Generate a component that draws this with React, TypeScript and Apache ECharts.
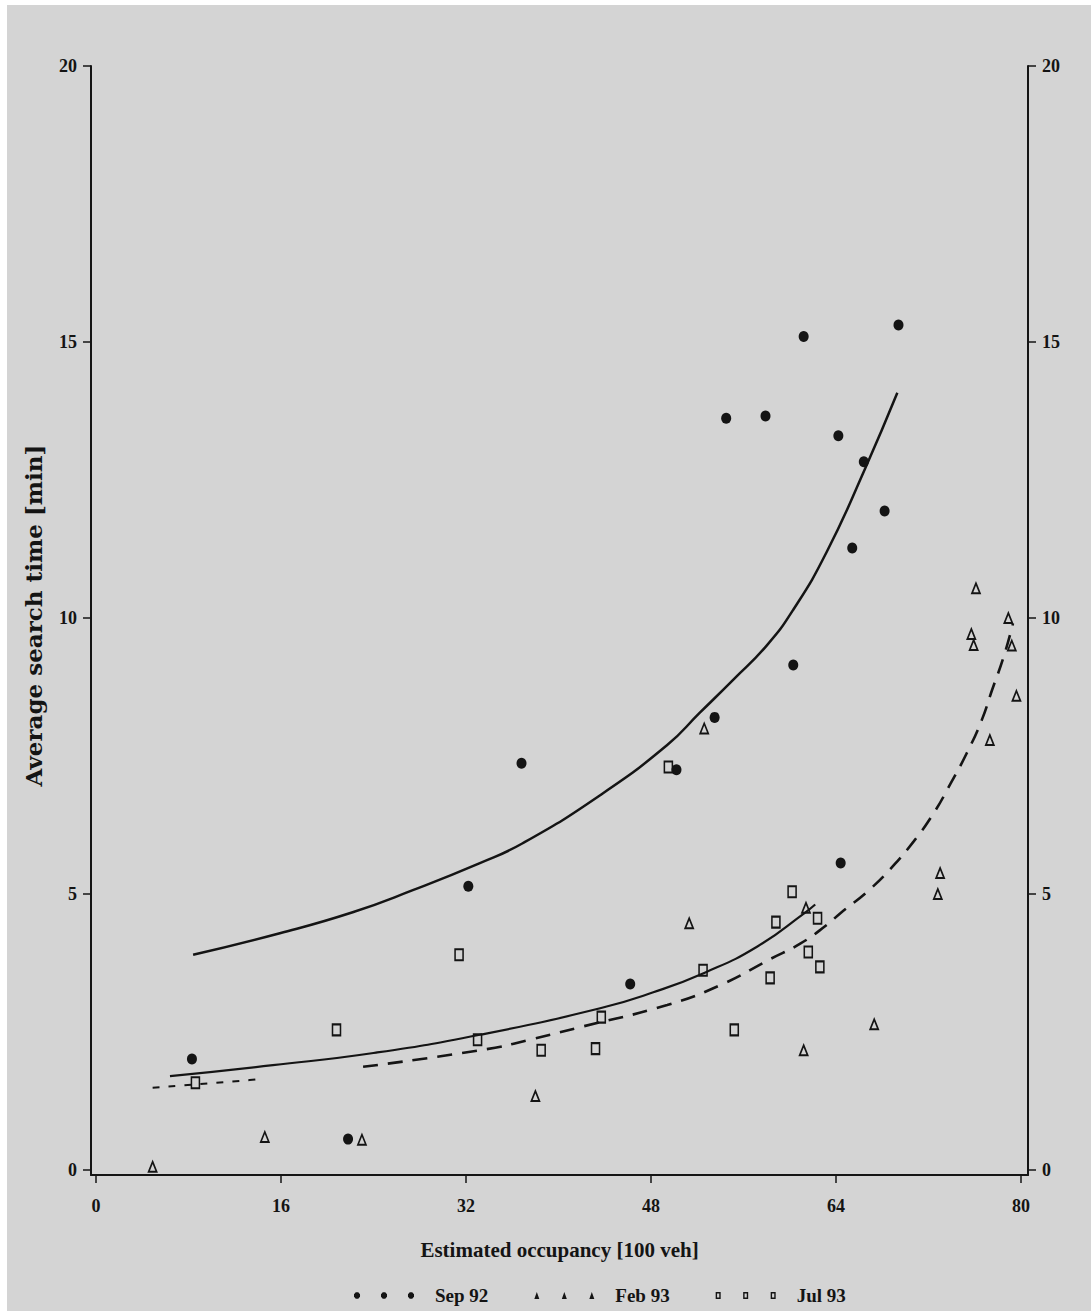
import React, { useEffect, useRef } from "react";
import * as echarts from "echarts";

// ---- data ----
const xTicks = [0, 16, 32, 48, 64, 80];
const yTicks = [0, 5, 10, 15, 20];
const seriesNames = ["Sep 92", "Feb 93", "Jul 93"];

const sep92Points = [
  [8.3, 2.01], [21.8, 0.56], [32.2, 5.14], [36.8, 7.37], [46.2, 3.37], [50.2, 7.25],
  [53.5, 8.2], [54.5, 13.62], [57.9, 13.66], [60.3, 9.15], [61.2, 15.1], [64.2, 13.3],
  [64.4, 5.56], [65.4, 11.27], [66.4, 12.83], [68.2, 11.94], [69.4, 15.31],
];
const feb93Points = [
  [4.9, 0.06], [14.6, 0.6], [23.0, 0.55], [38.0, 1.34], [51.3, 4.47], [52.6, 8.0],
  [61.2, 2.17], [61.4, 4.75], [67.3, 2.64], [72.8, 5.0], [73.0, 5.38], [75.7, 9.71],
  [75.9, 9.51], [76.1, 10.54], [77.3, 7.79], [78.9, 10.0], [79.2, 9.5], [79.6, 8.59],
];
const jul93Points = [
  [8.6, 1.58], [20.8, 2.54], [31.4, 3.9], [33.0, 2.36], [38.5, 2.17], [43.2, 2.2],
  [43.7, 2.77], [49.5, 7.3], [52.5, 3.62], [55.2, 2.54], [58.3, 3.48], [58.8, 4.49],
  [60.2, 5.04], [61.6, 3.95], [62.4, 4.56], [62.6, 3.68],
];

const sep92Curve = [
  [8.4, 3.9], [15.9, 4.29], [22.2, 4.67], [27.4, 5.07], [33.2, 5.56], [36.9, 5.92],
  [43.6, 6.79], [49.4, 7.7], [52.2, 8.28], [55.1, 8.88], [58.0, 9.5], [60.3, 10.15],
  [63.2, 11.2], [66.5, 12.7], [69.3, 14.08],
];
const jul93Curve = [
  [6.4, 1.7], [15.3, 1.9], [24.0, 2.12], [33.2, 2.45], [43.6, 2.93], [48.2, 3.22],
  [52.7, 3.58], [57.2, 4.05], [61.3, 4.66], [62.2, 4.81],
];
const feb93CurveLeft = [[4.9, 1.49], [13.3, 1.63], [14.5, 1.66]];
const feb93CurveRight = [
  [23.1, 1.87], [33.8, 2.19], [37.5, 2.36], [41.9, 2.59], [49.4, 2.99], [54.0, 3.35],
  [58.3, 3.82], [60.9, 4.1], [63.2, 4.44], [64.3, 4.64], [66.9, 5.08], [68.9, 5.5],
  [70.7, 5.95], [72.4, 6.45], [73.9, 7.0], [75.3, 7.55], [76.6, 8.15], [77.5, 8.7],
  [78.5, 9.3], [79.3, 9.9],
];

// ---- styling ----
const ink = "#141414";
const bg = "#d4d4d4";
const serif = "Liberation Serif";

function oct(cx: number, cy: number, rx: number, ry: number) {
  const pts: string[] = [];
  for (let i = 0; i < 8; i++) {
    const a = (Math.PI / 4) * i + Math.PI / 8;
    pts.push(`${(cx + rx * Math.cos(a)).toFixed(2)},${(cy + ry * Math.sin(a)).toFixed(2)}`);
  }
  return "M" + pts.join("L") + "Z";
}
const dotsIcon = "path://" + [3.5, 30, 56.5].map((c) => oct(c, 3.5, 3.2, 3.5)).join(" ");
const triIcon = "path://M0,7L2.5,0L5,7Z M27.5,7L30,0L32.5,7Z M55,7L57.5,0L60,7Z";
const sqIcon =
  "path://" +
  [0, 27.5, 55]
    .map(
      (x) =>
        `M${x},0L${x + 5},0L${x + 5},7L${x},7Z M${x + 1.4},1.4L${x + 1.4},5.6L${x + 3.6},5.6L${x + 3.6},1.4Z`
    )
    .join(" ");

const tickLabel = { fontFamily: serif, fontWeight: "bold" as const, fontSize: 18, color: ink };

function yAxisCfg(position: "left" | "right", withName: boolean) {
  return {
    type: "value" as const,
    position,
    min: -0.09,
    max: 20,
    name: withName ? "Average search time [min]" : "",
    nameLocation: "middle" as const,
    nameRotate: 90,
    nameGap: 46,
    nameTextStyle: {
      fontFamily: "DejaVu Serif",
      fontWeight: "bold" as const,
      fontSize: 23,
      color: ink,
      padding: [0, 0, 0, 10],
    },
    axisLine: { show: true, onZero: false, lineStyle: { color: ink, width: 2 } },
    axisTick: { show: true, customValues: yTicks, length: 8, lineStyle: { color: ink, width: 1.5 } },
    axisLabel: { ...tickLabel, customValues: yTicks, margin: 14 },
    splitLine: { show: false },
  };
}

export default function App() {
  const ref = useRef<HTMLDivElement>(null);

  useEffect(() => {
    document.body.style.margin = "0";
    if (!ref.current) return;
    const chart = echarts.init(ref.current, undefined, { renderer: "svg" });

    const curveLine = (data: number[][], width: number, type: any) => ({
      type: "line" as const,
      data,
      smooth: 0.5,
      symbol: "none",
      silent: true,
      z: 1,
      lineStyle: { color: ink, width, type },
    });

    chart.setOption({
      animation: false,
      backgroundColor: bg,
      grid: { left: 84, top: 61, right: 63, bottom: 136 },
      xAxis: {
        type: "value",
        min: -0.43,
        max: 80.6,
        name: "Estimated occupancy [100 veh]",
        nameLocation: "middle",
        nameGap: 64,
        nameTextStyle: { fontFamily: serif, fontWeight: "bold", fontSize: 21, color: ink },
        axisLine: { show: true, onZero: false, lineStyle: { color: ink, width: 2 } },
        axisTick: { show: true, customValues: xTicks, length: 8, lineStyle: { color: ink, width: 1.5 } },
        axisLabel: { ...tickLabel, customValues: xTicks, margin: 22 },
        splitLine: { show: false },
      },
      yAxis: [yAxisCfg("left", true), yAxisCfg("right", false)],
      legend: {
        left: 342,
        top: 1276,
        itemWidth: 60,
        itemHeight: 7,
        itemGap: 46,
        textStyle: { fontFamily: serif, fontWeight: "bold", fontSize: 19, color: ink, padding: [0, 0, 0, 16] },
        data: [
          { name: seriesNames[0], icon: dotsIcon, itemStyle: { color: ink, borderWidth: 0 } },
          { name: seriesNames[1], icon: triIcon, itemStyle: { color: ink, borderWidth: 0 } },
          { name: seriesNames[2], icon: sqIcon, itemStyle: { color: ink, borderWidth: 0 } },
        ],
      },
      series: [
        curveLine(sep92Curve, 2.5, "solid"),
        curveLine(jul93Curve, 2.2, "solid"),
        curveLine(feb93CurveLeft, 2, [7, 9]),
        curveLine(feb93CurveRight, 2.6, [15, 10]),
        {
          name: seriesNames[0],
          type: "scatter",
          data: sep92Points,
          symbol: "circle",
          symbolSize: [10, 11],
          z: 3,
          itemStyle: { color: ink, opacity: 1 },
        },
        {
          name: seriesNames[1],
          type: "scatter",
          data: feb93Points,
          symbol: "triangle",
          symbolSize: [8, 10],
          z: 3,
          itemStyle: { color: "rgba(0,0,0,0)", borderColor: ink, borderWidth: 1.8, opacity: 1 },
        },
        {
          name: seriesNames[2],
          type: "scatter",
          data: jul93Points,
          symbol: "rect",
          symbolSize: [8, 11],
          z: 3,
          itemStyle: { color: "rgba(0,0,0,0)", borderColor: ink, borderWidth: 1.8, opacity: 1 },
        },
      ],
    });

    return () => chart.dispose();
  }, []);

  return (
    <div style={{ position: "relative", width: 1091, height: 1311, background: "#ffffff", overflow: "hidden" }}>
      <div ref={ref} style={{ position: "absolute", left: 7, top: 5, width: 1084, height: 1306 }} />
    </div>
  );
}
